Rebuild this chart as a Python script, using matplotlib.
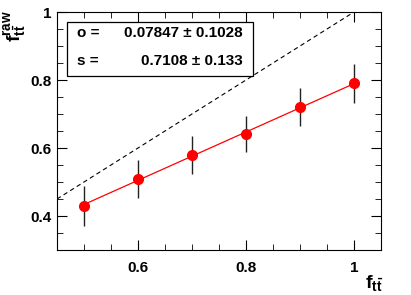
import numpy as np
import matplotlib
matplotlib.use("Agg")
import matplotlib.pyplot as plt
from matplotlib.ticker import MultipleLocator

plt.rcParams['font.family'] = ['Liberation Sans', 'DejaVu Sans']
plt.rcParams['font.weight'] = 'bold'
plt.rcParams['mathtext.fontset'] = 'custom'
plt.rcParams['mathtext.rm'] = 'Liberation Sans:bold'
plt.rcParams['mathtext.bf'] = 'Liberation Sans:bold'
plt.rcParams['mathtext.it'] = 'Liberation Sans:bold'

# dades llegides del grafic
f_true = [0.5, 0.6, 0.7, 0.8, 0.9, 1.0]
f_raw = [0.43, 0.51, 0.58, 0.64, 0.72, 0.79]
f_err = [0.058, 0.056, 0.055, 0.053, 0.056, 0.058]
fit_o = 0.07847
fit_s = 0.7108

fig = plt.figure(figsize=(4.11, 2.95), dpi=100)
ax = fig.add_axes([57/411, 45/295, 324/411, 238/295])

ax.plot([0.45, 1.05], [0.45, 1.05], color='black', linestyle=(0, (4, 3)), linewidth=0.8)
xs = np.array([0.5, 1.0])
ax.plot(xs, fit_o + fit_s * xs, color='red', linewidth=0.9)
ax.errorbar(f_true, f_raw, yerr=f_err, fmt='o', color='red', markersize=7,
            ecolor='#222222', elinewidth=1.0, capsize=0, zorder=3)

ax.set_xlim(0.45, 1.05)
ax.set_ylim(0.3, 1.0)
ax.xaxis.set_minor_locator(MultipleLocator(0.05))
ax.yaxis.set_minor_locator(MultipleLocator(0.05))
ax.tick_params(which='both', direction='in', top=True, right=True, labelsize=11)
ax.tick_params(which='major', length=7)
ax.tick_params(which='minor', length=4)
ax.set_xticks([0.6, 0.8, 1.0])
ax.set_xticklabels(['0.6', '0.8', '1'])
ax.set_yticks([0.4, 0.6, 0.8, 1.0])
ax.set_yticklabels(['0.4', '0.6', '0.8', '1'])
for lab in ax.get_xticklabels() + ax.get_yticklabels():
    lab.set_fontweight('bold')
ax.tick_params(axis='x', pad=8)
ax.tick_params(axis='y', pad=4)

# llegenda del fit
box = plt.Rectangle((67/411, (295-76)/295), 186/411, 54/295, transform=fig.transFigure,
                    fill=False, edgecolor='black', linewidth=0.9)
fig.patches.append(box)
fig.text(77/411, 1 - 33/295, 'o =', fontsize=11, fontweight='bold', va='center')
fig.text(243/411, 1 - 33/295, '0.07847 ± 0.1028', fontsize=11, fontweight='bold', va='center', ha='right')
fig.text(77/411, 1 - 61/295, 's =', fontsize=11, fontweight='bold', va='center')
fig.text(243/411, 1 - 61/295, '0.7108 ± 0.133', fontsize=11, fontweight='bold', va='center', ha='right')

fig.text(15/411, 1 - 10/295, r'$\mathbf{f}_{\mathbf{t\bar{t}}}^{\mathbf{raw}}$', fontsize=14,
         rotation=90, ha='center', va='top')
fig.text(383/411, 1 - 283/295, r'$\mathbf{f}_{\mathbf{t\bar{t}}}$', fontsize=14,
         ha='right', va='center')

fig.savefig('out.png', dpi=100)
